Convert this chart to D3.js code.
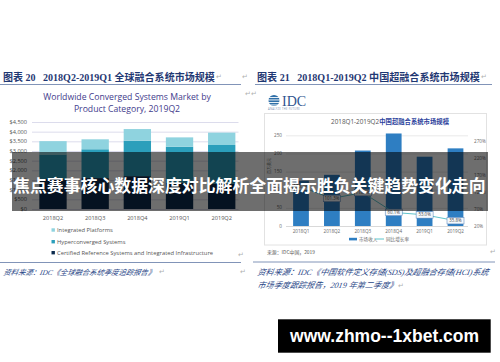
<!DOCTYPE html>
<html>
<head>
<meta charset="utf-8">
<script src="https://cdn.jsdelivr.net/npm/d3@7"></script>
<style>
  body { margin: 0; background: #fff; }
  svg { display: block; }
</style>
</head>
<body>
<svg id="page" width="500" height="362"></svg>
<script>
// left chart: worldwide converged systems ($M)
const quartersL = ["2018Q2", "2018Q3", "2018Q4", "2019Q1", "2019Q2"];
const certified = [1550, 1600, 1700, 1350, 1300];
const hyperconverged = [1270, 1490, 1830, 1870, 2010];
const integrated = [690, 515, 605, 485, 640];
const dollarTicks = [0, 500, 1000, 1500, 2000, 2500, 3000, 3500, 4000, 4500];
const legendL = ["Integrated Platforms", "Hyperconverged Systems", "Certified Reference Systems and Integrated Infrastructure"];

// right chart: China HCI market
const quartersR = ["2018Q1", "2018Q2", "2018Q3", "2018Q4", "2019Q1", "2019Q2"];
const revenue = [125, 141, 208, 255, 191, 214];
const growth = [135.7, 101.3, 118.6, 60.1, 53.0, 35.8];
const revTicks = [0, 50, 100, 150, 200, 250];
const pctTicks = [20, 70, 120, 170, 220, 270];

const svg = d3.select("#page");
const CJK = "'Noto Sans CJK SC', sans-serif";
const SERIF = "'Liberation Serif', 'Noto Sans CJK SC', serif";
const SANS = "'Open Sans', 'Noto Sans CJK SC', sans-serif";

// shrink/grow font so the text spans w pixels
function fit(sel, w) {
  const cur = sel.node().getComputedTextLength();
  const fs = parseFloat(sel.attr("font-size"));
  sel.attr("font-size", (fs * w / cur).toFixed(2));
  return sel;
}

function mark(x, y) {
  svg.append("text").attr("x", x).attr("y", y).attr("font-size", 7)
    .attr("fill", "#b0b0b0").attr("font-family", SANS).text("↵");
}

// slanted text (the CJK font has no italic face)
function italic(x, y, t, fs) {
  return svg.append("g").attr("transform", `translate(${x},${y}) skewX(-12)`)
    .append("text").attr("font-family", SERIF).attr("font-style", "italic")
    .attr("font-size", fs).attr("fill", "#2a4787").style("white-space", "pre").text(t);
}

// ---------- headers ----------
const hdrL = svg.append("text").attr("x", 3).attr("y", 80.5).style("white-space", "pre")
  .attr("font-family", SERIF).attr("font-weight", "bold").attr("font-size", 10.5)
  .attr("fill", "#1f3873").text("图表 20   2018Q2-2019Q1 全球融合系统市场规模");
fit(hdrL, 212);
const hdrR = svg.append("text").attr("x", 257).attr("y", 80.5).style("white-space", "pre")
  .attr("font-family", SERIF).attr("font-weight", "bold").attr("font-size", 10.5)
  .attr("fill", "#1f3873").text("图表 21   2018Q1-2019Q2 中国超融合系统市场规模");
fit(hdrR, 223);
mark(216, 79); mark(242, 79); mark(245, 96); mark(481, 79); mark(251, 96);

svg.append("line").attr("x1", 0).attr("x2", 241).attr("y1", 84.5).attr("y2", 84.5)
  .attr("stroke", "#8194b8").attr("stroke-width", 1);
svg.append("line").attr("x1", 255).attr("x2", 492).attr("y1", 84.5).attr("y2", 84.5)
  .attr("stroke", "#8194b8").attr("stroke-width", 1);

// ---------- left chart ----------
const ttl1 = svg.append("text").attr("x", 127).attr("y", 99.5).attr("text-anchor", "middle")
  .attr("font-family", SANS).attr("font-size", 9).attr("fill", "#3f3c8c")
  .text("Worldwide Converged Systems Market by");
fit(ttl1, 168);
svg.append("text").attr("x", 127).attr("y", 112.3).attr("text-anchor", "middle")
  .attr("font-family", SANS).attr("font-size", ttl1.attr("font-size")).attr("fill", "#3f3c8c")
  .text("Product Category, 2019Q2");

const xL = d3.scaleBand().domain(quartersL).range([33, 241.7]).paddingInner(0.352).paddingOuter(0.15);
const yL = d3.scaleLinear().domain([0, 4500]).range([209, 122]);

const gL = svg.append("g");
gL.selectAll("line.grid").data(dollarTicks).join("line")
  .attr("x1", 32).attr("x2", 238.5)
  .attr("y1", d => yL(d) + 0.5).attr("y2", d => yL(d) + 0.5)
  .attr("stroke", "#dcdcec").attr("stroke-width", 1);
gL.selectAll("text.ytick").data(dollarTicks).join("text")
  .attr("x", 27).attr("y", d => yL(d) + 2).attr("text-anchor", "end")
  .attr("font-family", SANS).attr("font-size", 5.6).attr("fill", "#555")
  .text(d => "$" + d3.format(",")(d));

const rowsL = quartersL.map((q, i) => ({ q, cert: certified[i], hyper: hyperconverged[i], integ: integrated[i] }));
const keysL = ["cert", "hyper", "integ"];
const colL = { cert: "#0d2b4e", hyper: "#2b9fbb", integ: "#8fd3df" };
const stackL = d3.stack().keys(keysL)(rowsL);
gL.selectAll("g.layer").data(stackL).join("g")
  .attr("fill", d => colL[d.key])
  .selectAll("rect").data(d => d).join("rect")
  .attr("x", d => xL(d.data.q)).attr("width", xL.bandwidth())
  .attr("y", d => yL(d[1])).attr("height", d => yL(d[0]) - yL(d[1]));

gL.selectAll("text.xl").data(quartersL).join("text")
  .attr("x", d => xL(d) + xL.bandwidth() / 2).attr("y", 219.5).attr("text-anchor", "middle")
  .attr("font-family", SANS).attr("font-size", 5.6).attr("fill", "#555").text(d => d);

const legColors = [colL.integ, colL.hyper, colL.cert];
const legY = [230, 241.7, 252.7];
legendL.forEach((t, i) => {
  gL.append("rect").attr("x", 51.5).attr("y", legY[i] - 1.7).attr("width", 3.4).attr("height", 3.4)
    .attr("fill", legColors[i]);
  gL.append("text").attr("x", 57).attr("y", legY[i] + 2).attr("font-family", SANS)
    .attr("font-size", 5.8).attr("fill", "#555").text(t);
});
mark(238, 257);

svg.append("line").attr("x1", 0).attr("x2", 241).attr("y1", 262.5).attr("y2", 262.5)
  .attr("stroke", "#8194b8").attr("stroke-width", 1);
fit(italic(3, 274.5, "资料来源：IDC《全球融合系统季度追踪报告》", 9.5), 152);
mark(159, 274); mark(240, 274);

// ---------- right chart ----------
// IDC logo
const logo = svg.append("g");
logo.append("circle").attr("cx", 274).attr("cy", 100.5).attr("r", 5.5).attr("fill", "#2f6fa8");
[97, 99.5, 102, 104.5].forEach(y => logo.append("rect").attr("x", 267).attr("y", y)
  .attr("width", 14).attr("height", 0.9).attr("fill", "#fff"));
logo.append("text").attr("x", 282).attr("y", 106).attr("font-family", SERIF)
  .attr("font-size", 14).attr("fill", "#2f5590").text("IDC");
logo.append("text").attr("x", 268).attr("y", 110.3).attr("font-family", SANS)
  .attr("font-size", 2.6).attr("fill", "#7a8fb0").attr("letter-spacing", 0.3).text("ANALYZE THE FUTURE");

svg.append("rect").attr("x", 264.5).attr("y", 113.5).attr("width", 222).attr("height", 131.5)
  .attr("fill", "none").attr("stroke", "#e2e2e2").attr("stroke-width", 1);

const ttlR = svg.append("text").attr("x", 331).attr("y", 124).attr("font-size", 6.5)
  .attr("font-family", SANS);
ttlR.append("tspan").attr("fill", "#555").text("2018Q1-2019Q2");
ttlR.append("tspan").attr("fill", "#2c3f9c").attr("font-weight", "bold")
  .attr("font-family", CJK).text("中国超融合系统市场规模");
fit(ttlR, 118);

const xR = d3.scaleBand().domain(quartersR).range([285.5, 471]).paddingInner(0.49).paddingOuter(0.2465);
const yR = d3.scaleLinear().domain([0, 250]).range([226, 135.3]);
const yP = d3.scaleLinear().domain([20, 270]).range([226, 141.3]);

const gR = svg.append("g");
gR.selectAll("line.grid").data(revTicks.slice(1)).join("line")
  .attr("x1", 286).attr("x2", 468)
  .attr("y1", d => yR(d) + 0.5).attr("y2", d => yR(d) + 0.5)
  .attr("stroke", "#e4e4e4").attr("stroke-width", 0.8);
gR.append("line").attr("x1", 286).attr("x2", 468).attr("y1", 226.5).attr("y2", 226.5)
  .attr("stroke", "#cfcfcf").attr("stroke-width", 0.8);
gR.selectAll("text.yl").data(revTicks).join("text")
  .attr("x", 282).attr("y", d => yR(d) + 1.6).attr("text-anchor", "end")
  .attr("font-family", SANS).attr("font-size", 4.6).attr("fill", "#666").text(d => d);
gR.selectAll("text.yp").data(pctTicks).join("text")
  .attr("x", 474).attr("y", d => yP(d) + 1.6)
  .attr("font-family", SANS).attr("font-size", 4.6).attr("fill", "#666").text(d => d + "%");
gR.append("text").attr("transform", "translate(271,166) rotate(-90)").attr("text-anchor", "middle")
  .attr("font-family", CJK).attr("font-size", 4).attr("fill", "#666").text("百万美元");

gR.selectAll("rect.bar").data(revenue).join("rect")
  .attr("x", (d, i) => xR(quartersR[i])).attr("width", xR.bandwidth())
  .attr("y", d => yR(d)).attr("height", d => yR(0) - yR(d))
  .attr("fill", "#2e7ec2");

const line = d3.line().x((d, i) => xR(quartersR[i]) + xR.bandwidth() / 2).y(d => yP(d));
gR.append("path").datum(growth).attr("d", line).attr("fill", "none")
  .attr("stroke", "#5fc4cb").attr("stroke-width", 1);

const lab = gR.selectAll("g.lab").data(growth).join("g")
  .attr("transform", (d, i) => `translate(${xR(quartersR[i]) + xR.bandwidth() / 2},${yP(d)})`);
lab.append("rect").attr("x", -8.5).attr("y", -3.3).attr("width", 17).attr("height", 6.6)
  .attr("fill", "#f4f8fc").attr("stroke", "#4d7db5").attr("stroke-width", 0.5);
lab.append("text").attr("y", 1.6).attr("text-anchor", "middle").attr("font-family", SANS)
  .attr("font-size", 4.4).attr("fill", "#444").text(d => d3.format(".1f")(d) + "%");

gR.selectAll("text.xr").data(quartersR).join("text")
  .attr("x", d => xR(d) + xR.bandwidth() / 2).attr("y", 232.5).attr("text-anchor", "middle")
  .attr("font-family", SANS).attr("font-size", 4.6).attr("fill", "#666").text(d => d);

gR.append("rect").attr("x", 349).attr("y", 237.8).attr("width", 8).attr("height", 2.6).attr("fill", "#2e7ec2");
gR.append("text").attr("x", 359).attr("y", 240.6).attr("font-family", CJK).attr("font-size", 4.6)
  .attr("fill", "#666").text("市场收入");
gR.append("line").attr("x1", 375).attr("x2", 384).attr("y1", 239).attr("y2", 239)
  .attr("stroke", "#5fc4cb").attr("stroke-width", 1);
gR.append("text").attr("x", 386).attr("y", 240.6).attr("font-family", CJK).attr("font-size", 4.6)
  .attr("fill", "#666").text("同比增长率");

const srcBox = svg.append("text").attr("x", 267).attr("y", 254.2).attr("font-family", CJK)
  .attr("font-size", 5.8).attr("fill", "#555").text("来源：IDC中国，2019");
fit(srcBox, 48);
mark(490, 254);

svg.append("line").attr("x1", 253).attr("x2", 495).attr("y1", 262).attr("y2", 262)
  .attr("stroke", "#8194b8").attr("stroke-width", 1);
const srcR1 = fit(italic(257, 274.5, "资料来源：IDC《中国软件定义存储(SDS)及超融合存储(HCI)系统", 9.5), 231);
italic(257, 288.3, "市场季度跟踪报告，2019 年第二季度》", srcR1.attr("font-size"));
mark(398, 288);

// ---------- banner overlay ----------
svg.append("rect").attr("x", 12).attr("y", 152).attr("width", 476).attr("height", 59)
  .attr("fill", "rgba(0,0,0,0.57)");
const banner = svg.append("text").attr("x", 13).attr("y", 191.5)
  .attr("font-family", CJK).attr("font-weight", "bold").attr("font-size", 17)
  .attr("fill", "#fff").text("焦点赛事核心数据深度对比解析全面揭示胜负关键趋势变化走向");
fit(banner, 473);

// ---------- watermark ----------
svg.append("rect").attr("x", 278).attr("y", 319.3).attr("width", 212.7).attr("height", 33.4).attr("fill", "#000");
const wm = svg.append("text").attr("x", 384.6).attr("y", 342).attr("text-anchor", "middle")
  .attr("font-family", "'Liberation Sans', Arial, sans-serif").attr("font-weight", "bold")
  .attr("font-size", 17).attr("fill", "#fff").text("www.zhmo--1xbet.com");
fit(wm, 189);
</script>
</body>
</html>
